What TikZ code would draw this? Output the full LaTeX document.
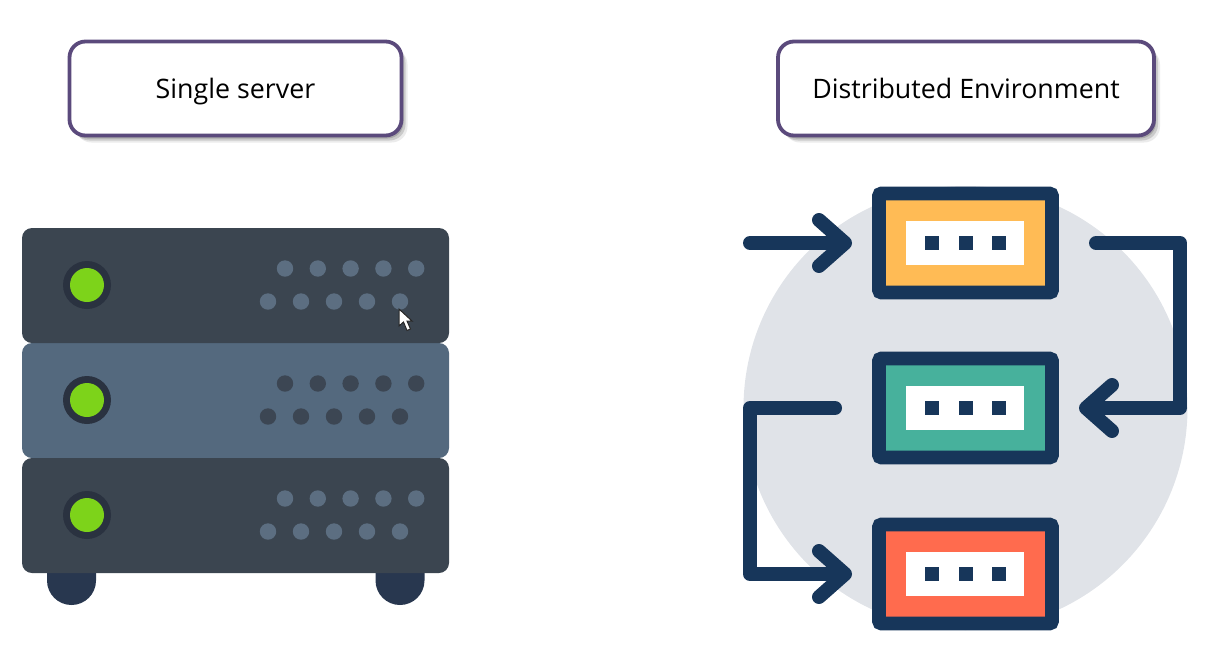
\documentclass[tikz,border=0pt]{standalone}
\usepackage{fontspec}
\setmainfont{Open Sans}
\usepackage{xcolor}
\usetikzlibrary{
  positioning,
  calc,
  arrows.meta,
  shadows
}
\definecolor{titleedge}{HTML}{5B4A7C}
\definecolor{navy}{HTML}{17365A}
\definecolor{rackdark}{HTML}{3B4550}
\definecolor{rackmid}{HTML}{54697E}
\definecolor{rackfoot}{HTML}{28374F}
\definecolor{ledring}{HTML}{2A3240}
\definecolor{ledgreen}{HTML}{7DD31A}
\definecolor{portlight}{HTML}{5C6E81}
\definecolor{portdark}{HTML}{3C4653}
\definecolor{disc}{HTML}{E0E3E8}
\definecolor{unitamber}{HTML}{FFBB55}
\definecolor{unitteal}{HTML}{47B19C}
\definecolor{unitcoral}{HTML}{FF6B4E}
\tikzset{
  titlebox/.style={draw=titleedge, line width=1.9pt, fill=white, rounded corners=8pt,
    minimum height=47pt, text=black, font=\fontsize{13.4}{16}\selectfont, outer sep=0pt,
    text height=13pt, text depth=3pt,
    drop shadow={shadow xshift=1pt, shadow yshift=-1.5pt, fill=black, opacity=.16},
    drop shadow={shadow xshift=2pt, shadow yshift=-2.5pt, fill=black, opacity=.14},
    drop shadow={shadow xshift=3pt, shadow yshift=-3.5pt, fill=black, opacity=.08}},
  unitbox/.style={draw=navy, line width=6.8pt, rounded corners=1.2pt, minimum width=86.5pt,
    minimum height=49.5pt, outer sep=0pt, inner sep=0pt},
  slotbox/.style={fill=white, minimum width=59pt, minimum height=22pt, inner sep=0pt},
  lamp/.style={fill=navy, minimum size=7pt, inner sep=0pt},
  flow/.style={draw=navy, line width=7pt, line cap=round, line join=round,
    -{Straight Barb[round, length=13pt, width=23pt, line width=7pt]}}
}

\begin{document}
\begin{tikzpicture}[x=.5pt, y=-.5pt]
  \useasboundingbox (0,0) rectangle (1216,649);

  % Titles
  \node[titlebox, minimum width=166pt] (single) at (235.5,88.5) {Single server};
  \node[titlebox, minimum width=188pt] (distrib) at (966,88.5) {Distributed Environment};

  % Feet
  \foreach \x in {47,375.5} {
    \fill[rackfoot] (\x,565) -- (\x,580.5) arc[start angle=180, end angle=0, radius=24.5] -- (\x+49,565) -- cycle;
  }

  % Rack panels
  \foreach \top/\col/\dots in {343/rackmid/portdark, 228/rackdark/portlight, 458/rackdark/portlight} {
    \fill[\col, rounded corners=5pt] (22,\top) rectangle (449,\top+115);
    \fill[ledring] (87,\top+57) circle (24);
    \fill[ledgreen] (87,\top+57) circle (17);
    \foreach \n in {0,...,4} {
      \fill[\dots] (285+\n*32.8,\top+40.5) circle (8.2);
      \fill[\dots] (268+\n*33,\top+73.5) circle (8.2);
    }
  }

  % Pointer
  \draw[fill=white, draw=black!85, line width=.5pt] (399,309) -- (399,326) -- (403.5,322) -- (407,330.5)
    -- (410.5,329) -- (407,321) -- (412,321) -- cycle;

  % Backdrop
  \fill[disc] (965.5,408) circle (222);

  % Units
  \foreach \name/\yy/\col in {unita/243/unitamber, unitb/408/unitteal, unitc/574/unitcoral} {
    \node[unitbox, fill=\col] (\name) at (965.5,\yy) {};
    \node[slotbox, xshift=-.25pt] (\name slot) at (\name) {};
    \node[lamp] (\name lamp) at (\name) {};
    \node[lamp, left=9.5pt of \name lamp] {};
    \node[lamp, right=9.5pt of \name lamp] {};
  }

  % Flow
  \coordinate (feed) at (750,243);
  \coordinate (turnr) at (1180,243);
  \coordinate (turnl) at (750,408);
  \draw[flow, shorten >=13.5pt] (feed) -- (unita.west);
  \draw[flow, shorten <=22pt, shorten >=13.5pt] (unita.east) -- (turnr) -- (turnr |- unitb) -- (unitb.east);
  \draw[flow, shorten <=22pt, shorten >=13.5pt] (unitb.west) -- (turnl) -- (turnl |- unitc) -- (unitc.west);
\end{tikzpicture}
\end{document}
